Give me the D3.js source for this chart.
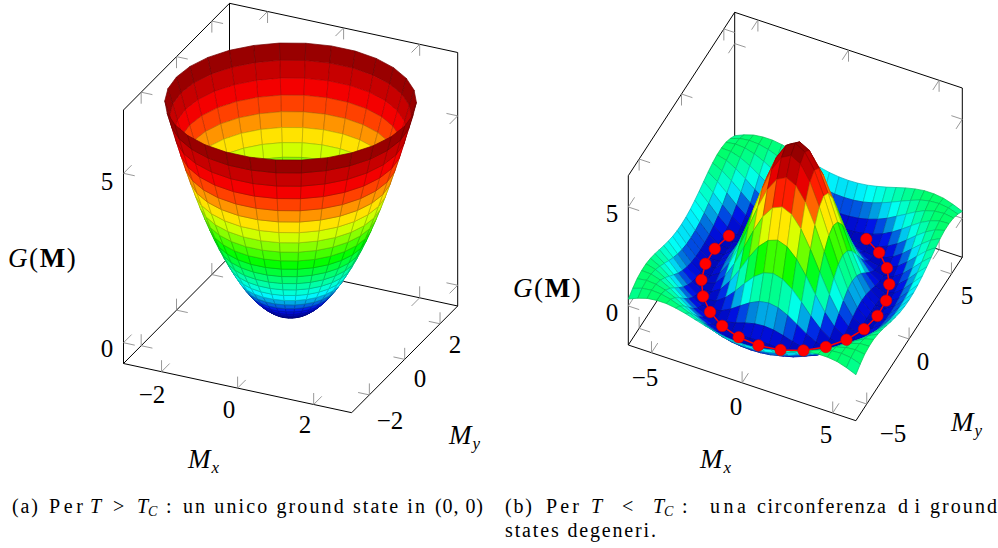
<!DOCTYPE html>
<meta charset="utf-8">
<style>
body { margin: 0; background: #fff; }
text { font-family: "Liberation Serif", serif; fill: #000; }
.num { font-size: 25px; text-anchor: middle; dominant-baseline: central; }
.lab { font-size: 27px; }
.sub { font-size: 17px; font-style: italic; }
.cap { font-size: 20px; }
.boxline { stroke: #000; stroke-width: 1; fill: none; }
.tick { stroke: #8c8c8c; stroke-width: 0.9; fill: none; }
</style>
<svg width="998" height="548"></svg>
<script src="https://d3js.org/d3.v7.min.js"></script>
<script>

var svg = d3.select("svg");

// colormap
var mapStops = [0, 0.1, 0.15, 0.2, 0.4, 0.6, 0.8, 1];
var mapColors = ["#000080", "#0010e8", "#0088dc", "#00ffff", "#00ff00", "#ffff00", "#ff0000", "#800000"];

// paraboloid (a): polar grid
var bowlAngles = [0,12,24,36,48,60,72,84,96,108,120,132,144,156,168,180,192,204,216,228,240,252,264,276,288,300,312,324,336,348,360];
var bowlRadius = [0,.115,.231,.346,.462,.577,.692,.808,.923,1.038,1.154,1.269,1.385,1.5,1.615,1.731,1.846,1.962,2.077,2.192,2.308,2.423,2.538,2.654,2.769,2.885,3];
var bowlHeight = [0,.009,.037,.084,.149,.233,.335,.457,.596,.754,.932,1.127,1.343,1.575,1.826,2.098,2.385,2.695,3.02,3.363,3.729,4.11,4.509,4.931,5.367,5.826,6.27];

// hat (b): square grid, heights read for one quadrant (surface is symmetric)
var hatAxis = [-6.28,-5.76,-5.24,-4.71,-4.19,-3.67,-3.14,-2.62,-2.09,-1.57,-1.05,-.52,0,.52,1.05,1.57,2.09,2.62,3.14,3.67,4.19,4.71,5.24,5.76,6.28];
var hatQuadrant = [
  [6.00,5.73,4.96,3.82,2.48,1.15,0,-.82,-1.24,-1.27,-.99,-.52,0],
  [5.73,5.47,4.72,3.61,2.31,1.02,-.08,-.86,-1.25,-1.27,-.97,-.50,.02],
  [4.96,4.72,4.04,3.02,1.84,.67,-.31,-.98,-1.28,-1.24,-.91,-.43,.08],
  [3.82,3.61,3.02,2.15,1.15,.17,-.62,-1.13,-1.30,-1.17,-.80,-.31,.18],
  [2.48,2.31,1.84,1.15,.36,-.38,-.94,-1.25,-1.28,-1.05,-.64,-.15,.30],
  [1.15,1.02,.67,.17,-.38,-.86,-1.19,-1.30,-1.18,-.87,-.43,.04,.44],
  [0,-.08,-.31,-.62,-.94,-1.19,-1.30,-1.24,-.99,-.62,-.17,.25,.58],
  [-.82,-.86,-.98,-1.13,-1.25,-1.30,-1.24,-1.03,-.71,-.31,.10,.45,.69],
  [-1.24,-1.25,-1.28,-1.30,-1.28,-1.18,-.99,-.71,-.36,.02,.37,.63,.76],
  [-1.27,-1.27,-1.24,-1.17,-1.05,-.87,-.62,-.31,.02,.34,.59,.74,.76],
  [-.99,-.97,-.91,-.80,-.64,-.43,-.17,.10,.37,.59,.73,.77,.70],
  [-.52,-.50,-.43,-.31,-.15,.04,.25,.45,.63,.74,.77,.71,.55],
  [0,.02,.08,.18,.30,.44,.58,.69,.76,.76,.70,.55,.35]
];

// ground state circle (b)
var ringAngles = [160,174,188,202,216,230,244,258,272,286,300,314,328,342,356,370,384,398,412,426];
var ringRadius = 4.7;
var ringHeight = -1.07;

// ticks
var ticksA = {x: [-2, 0, 2], y: [-2, 0, 2], z: [0, 5]};
var ticksB = {x: [-5, 0, 5], y: [-5, 0, 5], z: [0, 5]};

function makePlot(o) {
  var sx = d3.scaleLinear().domain(o.xDomain).range([0, 1]),
      sy = d3.scaleLinear().domain(o.yDomain).range([0, 1]),
      sz = d3.scaleLinear().domain(o.zDomain).range([0, 1]);
  var p = {};
  p.project = function(x, y, z) {
    var a = sx(x), b = sy(y), c = sz(z);
    return [o.origin[0] + a*o.ex[0] + b*o.ey[0],
            o.origin[1] + a*o.ex[1] + b*o.ey[1] - c*o.height];
  };
  // a height field seen from above: nearer in the x,y plane always wins
  var ux = o.ex[0]/(o.xDomain[1]-o.xDomain[0]), uy = o.ey[0]/(o.yDomain[1]-o.yDomain[0]);
  var vz = -o.height/(o.zDomain[1]-o.zDomain[0]);
  var view = [-uy*vz, ux*vz];
  p.depth = function(x, y) {
    return view[0]*x + view[1]*y;
  };
  p.color = d3.scaleLinear()
    .domain(mapStops.map(function(t) { return o.cDomain[0] + t*(o.cDomain[1]-o.cDomain[0]); }))
    .range(mapColors).clamp(true);
  p.g = svg.append("g");
  p.o = o;
  drawBox(p);
  return p;
}

function drawBox(p) {
  var o = p.o, x0 = o.xDomain[0], x1 = o.xDomain[1], y0 = o.yDomain[0], y1 = o.yDomain[1],
      z0 = o.zDomain[0], z1 = o.zDomain[1];
  var line = d3.line();
  var edges = [
    [[x0,y0,z0],[x1,y0,z0],[x1,y1,z0],[x0,y1,z0],[x0,y0,z0]],
    [[x0,y0,z1],[x0,y1,z1],[x1,y1,z1]],
    [[x0,y0,z0],[x0,y0,z1]],
    [[x1,y1,z0],[x1,y1,z1]],
    [[x0,y1,z0],[x0,y1,z1]]
  ];
  p.g.selectAll("path.boxline").data(edges).enter().append("path")
    .attr("class", "boxline")
    .attr("d", function(d) { return line(d.map(function(c) { return p.project(c[0], c[1], c[2]); })); });

  // each tick sits on an edge and points into the two faces that meet there
  var t = o.ticks, marks = [];
  function add(c, dirs) {
    dirs.forEach(function(dir) { marks.push({c: c, dir: dir}); });
  }
  t.x.forEach(function(v) {
    add([v,y0,z0], [[0,1,0],[0,0,1]]);
    add([v,y1,z1], [[0,-1,0],[0,0,-1]]);
    add([v,y1,z0], [[0,-1,0],[0,0,1]]);
  });
  t.y.forEach(function(v) {
    add([x1,v,z0], [[-1,0,0],[0,0,1]]);
    add([x0,v,z1], [[1,0,0],[0,0,-1]]);
    add([x0,v,z0], [[1,0,0],[0,0,1]]);
  });
  t.z.forEach(function(v) {
    add([x0,y0,v], [[1,0,0],[0,1,0]]);
    add([x1,y1,v], [[-1,0,0],[0,-1,0]]);
    add([x0,y1,v], [[1,0,0],[0,-1,0]]);
  });
  p.g.selectAll("line.tick").data(marks).enter().append("line")
    .attr("class", "tick")
    .each(function(d) {
      var a = p.project(d.c[0], d.c[1], d.c[2]);
      var b = p.project(d.c[0]+d.dir[0], d.c[1]+d.dir[1], d.c[2]+d.dir[2]);
      var len = Math.hypot(b[0]-a[0], b[1]-a[1]);
      d3.select(this)
        .attr("x1", a[0]).attr("y1", a[1])
        .attr("x2", a[0] + (b[0]-a[0])/len*11.5)
        .attr("y2", a[1] + (b[1]-a[1])/len*11.5);
    });
}

// cells = [{pts: [[x,y,z],...]}], painted back to front
function drawCells(p, cells) {
  var line = d3.line().curve(d3.curveLinearClosed);
  cells.forEach(function(c) {
    c.mz = d3.mean(c.pts, function(q) { return q[2]; });
    c.depth = d3.mean(c.pts, function(q) { return p.depth(q[0], q[1]); });
    c.fill = p.color(c.mz);
  });
  cells.sort(function(a, b) { return a.depth - b.depth; });
  p.g.append("g").selectAll("path").data(cells).enter().append("path")
    .attr("d", function(c) { return line(c.pts.map(function(q) { return p.project(q[0], q[1], q[2]); })); })
    .attr("fill", function(c) { return c.fill; })
    .attr("stroke", function(c) { return d3.interpolateRgb(c.fill, "#000")(0.25); })
    .attr("stroke-width", 0.7)
    .attr("stroke-linejoin", "round");
}

var plotA = makePlot({
  xDomain: [-3, 3], yDomain: [-3, 3], zDomain: [-0.613, 6.87],
  origin: [123.5, 363.5], ex: [228.2, 49.2], ey: [106, -106.7], height: 253.5,
  cDomain: [0, 6.3], ticks: ticksA
});

var plotB = makePlot({
  xDomain: [-6.28, 6.28], yDomain: [-6.28, 6.28], zDomain: [-1.97, 6.58],
  origin: [628.3, 345], ex: [227.6, 75.7], ey: [106.4, -163.4], height: 169.3,
  cDomain: [-1.7, 6], ticks: ticksB
});

var bowlCells = [];
d3.range(bowlRadius.length - 1).forEach(function(i) {
  d3.range(bowlAngles.length - 1).forEach(function(j) {
    function pt(ri, aj) {
      var t = bowlAngles[aj] * Math.PI / 180;
      return [bowlRadius[ri]*Math.cos(t), bowlRadius[ri]*Math.sin(t), bowlHeight[ri]];
    }
    bowlCells.push({pts: [pt(i,j), pt(i+1,j), pt(i+1,j+1), pt(i,j+1)]});
  });
});
drawCells(plotA, bowlCells);

function hatZ(i, j) {
  return hatQuadrant[Math.abs(i-12)][Math.abs(j-12)];
}
var hatCells = [];
d3.range(hatAxis.length - 1).forEach(function(i) {
  d3.range(hatAxis.length - 1).forEach(function(j) {
    function pt(a, b) { return [hatAxis[a], hatAxis[b], hatZ(a, b)]; }
    hatCells.push({pts: [pt(i,j), pt(i+1,j), pt(i+1,j+1), pt(i,j+1)]});
  });
});
drawCells(plotB, hatCells);

// red circle on top of the surface
var ringPts = ringAngles.map(function(d) {
  var t = d * Math.PI / 180;
  return plotB.project(ringRadius*Math.cos(t), ringRadius*Math.sin(t), ringHeight);
});
plotB.g.append("path")
  .attr("d", d3.line()(ringPts))
  .attr("fill", "none").attr("stroke", "#f00").attr("stroke-width", 1.5);
plotB.g.selectAll("circle").data(ringPts).enter().append("circle")
  .attr("cx", function(d) { return d[0]; })
  .attr("cy", function(d) { return d[1]; })
  .attr("r", 5.7)
  .attr("fill", "#f00").attr("stroke", "#d40000").attr("stroke-width", 0.6);

// tick labels
function label(v, x, y) {
  svg.append("text").attr("class", "num").attr("x", x).attr("y", y)
    .text(String(v).replace("-", "\u2212"));
}
[[ticksA.z[1],107,181],[ticksA.z[0],107,348],
 [ticksA.x[0],152,394],[ticksA.x[1],229,409],[ticksA.x[2],305,424],
 [ticksA.y[2],455,344],[ticksA.y[1],420,378],[ticksA.y[0],390,420],
 [ticksB.z[1],612,213],[ticksB.z[0],612,312],
 [ticksB.x[0],645,377],[ticksB.x[1],736,406],[ticksB.x[2],826,434],
 [ticksB.y[2],967,295],[ticksB.y[1],923,361],[ticksB.y[0],893,433]
].forEach(function(d) { label(d[0], d[1], d[2]); });

// axis titles
function gLabel(x, y) {
  var t = svg.append("text").attr("class", "lab").attr("x", x).attr("y", y)
    .attr("letter-spacing", 1.6);
  t.append("tspan").attr("font-style", "italic").text("G");
  t.append("tspan").text("(");
  t.append("tspan").attr("font-weight", "bold").text("M");
  t.append("tspan").text(")");
}
function mLabel(x, y, s) {
  var t = svg.append("text").attr("class", "lab").attr("x", x).attr("y", y);
  t.append("tspan").attr("font-style", "italic").text("M");
  t.append("tspan").attr("class", "sub").attr("dy", 5).attr("dx", 1).text(s);
}
gLabel(8, 267);
gLabel(513, 297);
mLabel(188, 468, "x");
mLabel(700, 468, "x");
mLabel(449, 444, "y");
mLabel(951, 431, "y");

// captions, word groups fitted to the width they have in the page
function run(s, x, x2, y) {
  svg.append("text").attr("class", "cap").attr("x", x).attr("y", y)
    .attr("textLength", x2 - x).attr("lengthAdjust", "spacing").text(s);
}
function glyph(s, x, y, it) {
  var t = svg.append("text").attr("class", "cap").attr("x", x).attr("y", y).text(s);
  if (it) t.attr("font-style", "italic");
}
function sub(s, x, y) {
  svg.append("text").attr("x", x).attr("y", y).attr("font-size", 14).attr("font-style", "italic").text(s);
}
run("(a)", 12, 38, 513);
run("Per", 49, 83, 513);
glyph("T", 90, 513, true);
glyph(">", 113, 513);
glyph("T", 137, 513, true);
sub("C", 148, 516);
glyph(":", 166, 513);
run("un unico ground state in", 183, 425, 513);
run("(0, 0)", 435, 483, 513);

run("(b)", 505, 532, 513);
run("Per", 546, 579, 513);
glyph("T", 591, 513, true);
glyph("<", 622, 513);
glyph("T", 653, 513, true);
sub("C", 664, 516);
glyph(":", 682, 513);
run("una", 710, 746, 513);
run("circonferenza", 757, 886, 513);
run("di", 898, 920, 513);
run("ground", 930, 997, 513);
run("states degeneri.", 505, 656, 537);

</script>
